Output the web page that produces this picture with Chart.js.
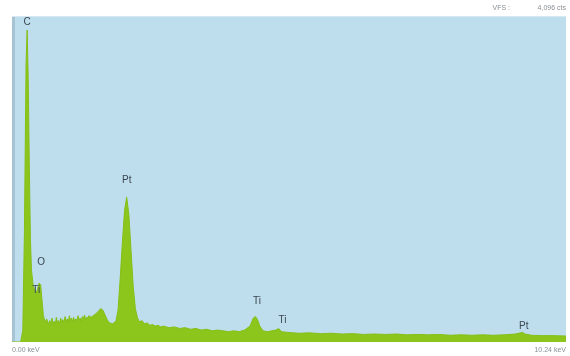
<!DOCTYPE html>
<html>
<head>
<meta charset="utf-8">
<script src="https://cdn.jsdelivr.net/npm/chart.js@4"></script>
<style>
  html, body { margin: 0; padding: 0; background: #ffffff; }
  #wrap { position: relative; width: 570px; height: 356px; }
  canvas { display: block; }
</style>
</head>
<body>
<div id="wrap"><canvas id="eds" width="570" height="356"></canvas></div>
<script>
// EDS spectrum: energy (keV) and counts per channel
const energies = [
  0.00, 0.16, 0.20, 0.23, 0.26, 0.28, 0.30, 0.32, 0.34, 0.36, 0.39, 0.42, 0.44, 0.47,
  0.50, 0.53, 0.55, 0.58, 0.61, 0.64, 0.67, 0.70, 0.72, 0.74, 0.76, 0.78, 0.80, 0.82,
  0.84, 0.86, 0.88, 0.90, 0.92, 0.94, 0.96, 0.98, 1.00, 1.02, 1.04, 1.06, 1.08, 1.10,
  1.12, 1.14, 1.16, 1.18, 1.20, 1.22, 1.24, 1.26, 1.28, 1.30, 1.32, 1.34, 1.36, 1.38,
  1.40, 1.42, 1.46, 1.52, 1.56, 1.60, 1.64, 1.68, 1.72, 1.76, 1.80, 1.86, 1.92, 1.96,
  2.00, 2.04, 2.08, 2.12, 2.16, 2.20, 2.24, 2.28, 2.32, 2.36, 2.40, 2.45, 2.50, 2.55,
  2.60, 2.65, 2.70, 2.75, 2.80, 2.90, 3.00, 3.10, 3.20, 3.30, 3.40, 3.50, 3.60, 3.70,
  3.80, 3.90, 4.00, 4.10, 4.20, 4.30, 4.40, 4.46, 4.50, 4.54, 4.58, 4.64, 4.72, 4.80,
  4.88, 4.93, 4.98, 5.10, 5.30, 5.50, 5.70, 5.90, 6.10, 6.30, 6.50, 6.70, 6.90, 7.10,
  7.30, 7.50, 7.70, 7.90, 8.10, 8.30, 8.50, 8.70, 8.90, 9.10, 9.30, 9.40, 9.44, 9.48,
  9.60, 9.80, 10.00, 10.24
];
const counts = [
  0, 0, 150, 1400, 3500, 3920, 3300, 2200, 1300, 900, 720, 650, 610, 660,
  740, 720, 560, 330, 250, 290, 230, 270, 210, 300, 230, 260, 220, 310,
  240, 270, 230, 300, 250, 280, 240, 320, 260, 290, 250, 330, 270, 300,
  260, 310, 250, 290, 270, 330, 280, 300, 260, 320, 290, 340, 280, 310,
  300, 330, 310, 340, 360, 390, 420, 400, 340, 280, 240, 230, 260, 400,
  800, 1250, 1650, 1820, 1600, 1150, 700, 420, 300, 250, 270, 230, 240, 210,
  220, 200, 210, 190, 200, 180, 190, 170, 180, 160, 170, 150, 160, 140,
  150, 140, 130, 140, 130, 150, 200, 300, 320, 280, 200, 140, 130, 140,
  150, 170, 130, 120, 110, 115, 105, 110, 100, 105, 95, 100, 95, 100,
  90, 95, 90, 95, 85, 90, 85, 90, 85, 90, 100, 115, 120, 100,
  85, 80, 80, 75
];

// element markers: symbol, energy (keV), label baseline (counts)
const peakNames    = ['C',  'O',  'Ti', 'Pt', 'Ti', 'Ti', 'Pt'];
const peakEnergies = [0.28, 0.54, 0.45, 2.12, 4.53, 5.00, 9.46];
const peakHeights  = [3950, 940,  590,  1970, 450,  215,  140];

// corner annotations
const axisStartLabel = '0.00 keV';
const axisEndLabel = '10.24 keV';
const fullScaleLabel = 'VFS :';
const fullScaleValue = '4,096 cts';
const fullScale = 4096;

const points = energies.map((e, i) => ({ x: e, y: counts[i] }));

const panelPlugin = {
  id: 'panel',
  beforeDraw(chart) {
    const { ctx, chartArea: a } = chart;
    ctx.save();
    ctx.fillStyle = '#bedded';
    ctx.fillRect(a.left, a.top, a.right - a.left, a.bottom - a.top);
    ctx.fillStyle = '#a7c4d4';
    ctx.fillRect(a.left, a.top, 3, a.bottom - a.top);
    ctx.fillStyle = '#d6e9f3';
    ctx.fillRect(a.left, a.top, a.right - a.left, 1);
    ctx.restore();
  },
  afterDraw(chart) {
    const { ctx, chartArea: a, scales } = chart;
    ctx.save();
    ctx.font = '10px "Liberation Sans", Arial, sans-serif';
    ctx.fillStyle = '#3a4650';
    ctx.textAlign = 'center';
    ctx.textBaseline = 'bottom';
    peakNames.forEach((n, i) => {
      ctx.fillText(n, scales.x.getPixelForValue(peakEnergies[i]), scales.y.getPixelForValue(peakHeights[i]));
    });
    ctx.font = '7px "Liberation Sans", Arial, sans-serif';
    ctx.fillStyle = '#8a8f94';
    ctx.textBaseline = 'middle';
    ctx.textAlign = 'left';
    ctx.fillText(axisStartLabel, a.left, a.bottom + 8);
    ctx.textAlign = 'right';
    ctx.fillText(axisEndLabel, a.right, a.bottom + 8);
    ctx.fillText(fullScaleValue, a.right, a.top - 8);
    ctx.fillText(fullScaleLabel, a.right - 56, a.top - 8);
    ctx.restore();
  }
};

new Chart(document.getElementById('eds'), {
  type: 'line',
  data: {
    datasets: [{
      data: points,
      fill: 'origin',
      backgroundColor: 'rgb(140,198,28)',
      borderColor: 'rgb(132,192,22)',
      borderWidth: 1,
      pointRadius: 0,
      tension: 0
    }]
  },
  options: {
    responsive: false,
    animation: false,
    layout: { padding: { left: 12, top: 16, right: 4, bottom: 14 } },
    plugins: { legend: { display: false }, tooltip: { enabled: false } },
    scales: {
      x: { type: 'linear', min: 0, max: 10.24, display: false },
      y: { min: 0, max: fullScale, display: false }
    }
  },
  plugins: [panelPlugin]
});
</script>
</body>
</html>
